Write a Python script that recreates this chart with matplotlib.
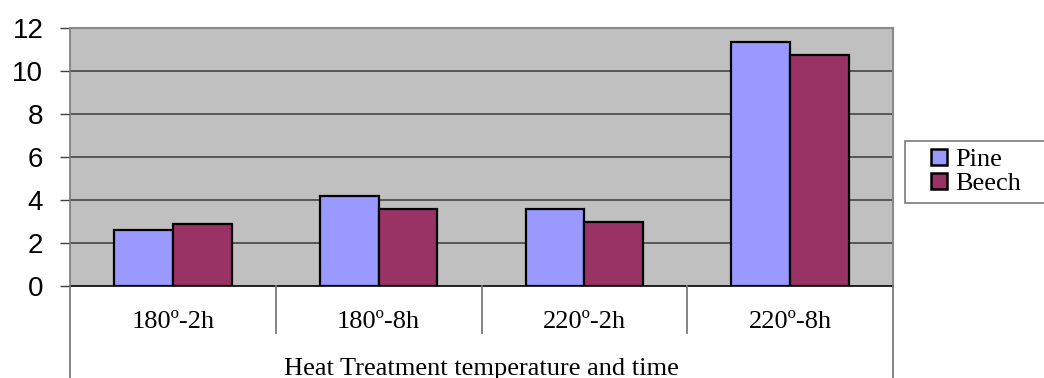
import matplotlib
matplotlib.use("Agg")
import matplotlib.pyplot as plt
from matplotlib.patches import Rectangle, Patch
from matplotlib.lines import Line2D
from matplotlib.transforms import blended_transform_factory
import numpy as np

categories = ["180º-2h", "180º-8h", "220º-2h", "220º-8h"]
pine = [2.6, 4.2, 3.6, 11.35]
beech = [2.9, 3.6, 3.0, 10.75]
series_names = ["Pine", "Beech"]
y_ticks = [0, 2, 4, 6, 8, 10, 12]
axis_title = "Heat Treatment temperature and time"

W, H = 1044, 378
fig = plt.figure(figsize=(W / 100, H / 100), dpi=100)
fig.patch.set_facecolor("white")

left, right, top, bottom = 70, 893, 28, 286
ax = fig.add_axes([left / W, 1 - bottom / H, (right - left) / W, (bottom - top) / H])
ax.set_facecolor("#C0C0C0")

x = np.arange(len(categories))
bw = 0.285
pine_color = "#9999FF"
beech_color = "#993366"
ax.bar(x - bw / 2, pine, bw, color=pine_color, edgecolor="black", linewidth=1.6, zorder=3)
ax.bar(x + bw / 2, beech, bw, color=beech_color, edgecolor="black", linewidth=1.6, zorder=3)

ax.set_xlim(-0.5, len(categories) - 0.5)
ax.set_ylim(0, 12)
ax.set_yticks(y_ticks)
ax.set_yticklabels([str(t) for t in y_ticks], family="Liberation Sans", fontsize=20)
ax.tick_params(axis="y", length=7.2, width=1, color="#404040", pad=12, direction="out")
ax.set_xticks([])

for t in y_ticks[1:-1]:
    ax.axhline(t, color="#3a3a3a", linewidth=1.1, zorder=1)

for side in ["top", "right"]:
    ax.spines[side].set_color("#8a8a8a")
    ax.spines[side].set_linewidth(1.5)
ax.spines["left"].set_color("#7a7a7a")
ax.spines["left"].set_linewidth(1.2)
ax.spines["bottom"].set_color("black")
ax.spines["bottom"].set_linewidth(1.2)

serif = {"family": "Liberation Serif", "size": 19}

# multi-level category axis beneath the plot
tr = blended_transform_factory(ax.transData, fig.transFigure)
sep_end = 1 - 333 / H
for i in range(len(categories) + 1):
    xs = i - 0.5
    y_end = 0.0 if i in (0, len(categories)) else sep_end
    fig.add_artist(Line2D([xs, xs], [1 - bottom / H, y_end], transform=tr,
                          color="#7a7a7a", linewidth=1.3))
for i, c in enumerate(categories):
    fig.text(i, 1 - 328 / H, c, transform=tr, ha="center", va="baseline",
             fontproperties=None, **serif)
fig.text(1.5, 1 - 375 / H, axis_title, transform=tr, ha="center", va="baseline", **serif)

# legend box
fig.add_artist(Rectangle((905 / W, 1 - 203 / H), 150 / W, 62 / H, transform=fig.transFigure,
                         facecolor="white", edgecolor="#7a7a7a", linewidth=1.2, clip_on=False))
handles = [Patch(facecolor=pine_color, edgecolor="black", linewidth=1.8),
           Patch(facecolor=beech_color, edgecolor="black", linewidth=1.8)]
fig.legend(handles, series_names, loc="center left", bbox_to_anchor=(931 / W, 1 - 172 / H),
           frameon=False, prop=serif,
           handlelength=0.6, handleheight=0.6, handletextpad=0.3, labelspacing=0.05,
           borderpad=0, borderaxespad=0)

fig.savefig("out.png", dpi=100)
